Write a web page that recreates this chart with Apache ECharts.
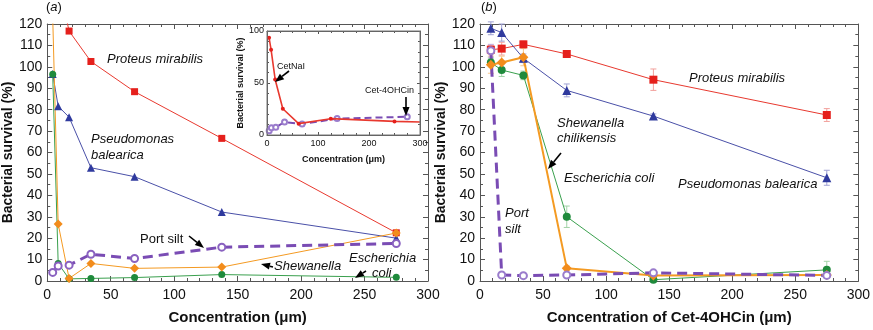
<!DOCTYPE html>
<html>
<head>
<meta charset="utf-8">
<script src="https://cdn.jsdelivr.net/npm/echarts@6/dist/echarts.min.js"></script>
<style>
  html, body { margin: 0; padding: 0; background: #fff; }
  #chart { width: 873px; height: 330px; }
</style>
</head>
<body>
<div id="chart"></div>
<script>
// panel (a): Cet-4OHCin with different strains (port silt, Shewanella, ...)
const aConc = [4.3, 8.6, 17.2, 34.4, 68.8, 137.5, 275];
const aProteus = [null, 140, 116.7, 102.5, 88.4, 66.6, 22.5];
const aPseudo = [96.7, 81.6, 76.5, 52.9, 48.7, 32.2, 20];
const aShew = [123, 26.6, 1.2, 8.2, 5.9, 6.5, 22.4];
const aEcoli = [96.5, 8.2, 1, 1.2, 1.6, 3, 1.7];
const aPort = [4, 7, 7.4, 12.5, 10.5, 15.8, 17.5];

// inset of (a)
const iConc = [4, 8, 16, 31, 62, 125, 250, 300];
const iCetNaI = [93.6, 82, 53.4, 25.2, 10.9, 15.7, 13.1, 12.5];

// panel (b)
const bConc = [8.6, 17.2, 34.4, 68.8, 137.5, 275];
const bProteus = [108, 108.5, 110.5, 106, 94, 77.5];
const bProteusErr = [2, 3, 1.5, 1.5, 5, 3];
const bPseudo = [118, 116, 104, 89, 77, 48.2];
const bPseudoErr = [3, 4, 2, 3, 1, 3.5];
const bShew = [101, 102, 104.5, 6, 2.6, 2.8];
const bShewErr = [4, 3, 4, 1, 1, 1];
const bEcoli = [102, 98.5, 96, 30, 0.6, 5.2];
const bEcoliErr = [2, 3, 2, 5, 1, 4];
const bPort = [107.5, 2.8, 2.5, 2.8, 3.8, 2.6];
const bPortErr = [3, 0.5, 0.5, 0.5, 0.8, 0.5];

const xTicks = [0, 300, 50];
const yTicks = [0, 120, 10];
const FONT = 'Liberation Sans, Arial, Helvetica, sans-serif';

function zip(xs, ys) { return xs.map((x, i) => [x, ys[i]]); }
function zipErr(xs, ys, es) { return xs.map((x, i) => [x, ys[i], es[i]]); }

const RED = '#e8392f', BLUE = '#4a50a8', ORANGE = '#f49a22', GREEN = '#3aa04e', PURPLE = '#7a4cb4';

function axisX(grid, pos, min, max, interval, minor, opts) {
  return Object.assign({
    type: 'value', gridIndex: grid, position: pos, min: min, max: max, interval: interval,
    axisLine: { show: true, onZero: false, lineStyle: { color: '#555', width: 1 } },
    axisTick: { show: true, inside: true, length: 5, lineStyle: { color: '#555' } },
    minorTick: { show: true, splitNumber: minor, length: 3, lineStyle: { color: '#555' } },
    splitLine: { show: false },
    axisLabel: { show: pos === 'bottom' || pos === 'left', color: '#111', fontSize: 14, fontFamily: FONT, margin: 7 }
  }, opts || {});
}

function errorSeries(xi, yi, data, color) {
  return {
    type: 'custom', xAxisIndex: xi, yAxisIndex: yi, z: 1, silent: true,
    encode: { x: 0, y: 1 },
    data: data,
    renderItem: function (params, api) {
      const x = api.value(0), y = api.value(1), e = api.value(2);
      const t = api.coord([x, y + e]);
      const b = api.coord([x, y - e]);
      const st = { stroke: color, lineWidth: 1 };
      return {
        type: 'group', children: [
          { type: 'line', shape: { x1: t[0], y1: t[1], x2: b[0], y2: b[1] }, style: st },
          { type: 'line', shape: { x1: t[0] - 3, y1: t[1], x2: t[0] + 3, y2: t[1] }, style: st },
          { type: 'line', shape: { x1: b[0] - 3, y1: b[1], x2: b[0] + 3, y2: b[1] }, style: st }
        ]
      };
    }
  };
}

function arrow(x1, y1, x2, y2) {
  const a = Math.atan2(y2 - y1, x2 - x1);
  const L = 9, W = 3.5;
  const bx = x2 - L * Math.cos(a), by = y2 - L * Math.sin(a);
  const px = -Math.sin(a) * W, py = Math.cos(a) * W;
  return [
    { type: 'line', shape: { x1: x1, y1: y1, x2: bx, y2: by }, style: { stroke: '#000', lineWidth: 1.6 }, z: 100 },
    { type: 'polygon', shape: { points: [[x2, y2], [bx + px, by + py], [bx - px, by - py]] }, style: { fill: '#000' }, z: 100 }
  ];
}

function label(text, x, y, size, italic) {
  return {
    type: 'text', x: x, y: y, z: 100,
    style: { text: text, fontSize: size, fontStyle: italic ? 'italic' : 'normal', fontFamily: FONT, fill: '#111', verticalAlign: 'middle' }
  };
}

const chart = echarts.init(document.getElementById('chart'));

const option = {
  animation: false,
  backgroundColor: '#fff',
  textStyle: { fontFamily: FONT },
  grid: [
    { left: 46, top: 24, width: 382, height: 259 },
    { left: 267, top: 31, width: 153, height: 104, show: true, backgroundColor: '#fff', borderWidth: 0, z: 3 },
    { left: 480, top: 24, width: 383, height: 259 }
  ],
  xAxis: [
    axisX(0, 'bottom', xTicks[0], xTicks[1], xTicks[2], 5, {
      name: 'Concentration (\u03bcm)', nameLocation: 'middle', nameGap: 29,
      nameTextStyle: { fontSize: 15, fontWeight: 'bold', color: '#111', fontFamily: FONT }
    }),
    axisX(0, 'top', xTicks[0], xTicks[1], xTicks[2], 5),
    axisX(1, 'bottom', 0, 300, 100, 4, {
      z: 4,
      axisLabel: { color: '#111', fontSize: 9, fontFamily: FONT, margin: 4 },
      axisTick: { inside: true, length: 3, lineStyle: { color: '#555' } },
      minorTick: { show: true, splitNumber: 4, length: 2, lineStyle: { color: '#555' } },
      name: 'Concentration (\u03bcm)', nameLocation: 'middle', nameGap: 20,
      nameTextStyle: { fontSize: 9, fontWeight: 'bold', color: '#111', fontFamily: FONT }
    }),
    axisX(1, 'top', 0, 300, 100, 4, {
      z: 4,
      axisTick: { inside: true, length: 3, lineStyle: { color: '#555' } },
      minorTick: { show: true, splitNumber: 4, length: 2, lineStyle: { color: '#555' } }
    }),
    axisX(2, 'bottom', xTicks[0], xTicks[1], xTicks[2], 5, {
      name: 'Concentration of Cet-4OHCin (\u03bcm)', nameLocation: 'middle', nameGap: 29,
      nameTextStyle: { fontSize: 15, fontWeight: 'bold', color: '#111', fontFamily: FONT }
    }),
    axisX(2, 'top', xTicks[0], xTicks[1], xTicks[2], 5)
  ],
  yAxis: [
    axisX(0, 'left', yTicks[0], yTicks[1], yTicks[2], 2, {
      axisLabel: { color: '#111', fontSize: 14, fontFamily: FONT, margin: 5 },
      name: 'Bacterial survival (%)', nameLocation: 'middle', nameGap: 29,
      nameTextStyle: { fontSize: 14, fontWeight: 'bold', color: '#111', fontFamily: FONT }
    }),
    axisX(0, 'right', yTicks[0], yTicks[1], yTicks[2], 2),
    axisX(1, 'left', 0, 100, 50, 5, {
      z: 4,
      axisLabel: { color: '#111', fontSize: 9, fontFamily: FONT, margin: 3 },
      axisTick: { inside: true, length: 3, lineStyle: { color: '#555' } },
      minorTick: { show: true, splitNumber: 5, length: 2, lineStyle: { color: '#555' } },
      name: 'Bacterial survival (%)', nameLocation: 'middle', nameGap: 21,
      nameTextStyle: { fontSize: 9, fontWeight: 'bold', color: '#111', fontFamily: FONT }
    }),
    axisX(1, 'right', 0, 100, 50, 5, {
      z: 4,
      axisTick: { inside: true, length: 3, lineStyle: { color: '#555' } },
      minorTick: { show: true, splitNumber: 5, length: 2, lineStyle: { color: '#555' } }
    }),
    axisX(2, 'left', yTicks[0], yTicks[1], yTicks[2], 2, {
      axisLabel: { color: '#111', fontSize: 14, fontFamily: FONT, margin: 5 },
      name: 'Bacterial survival (%)', nameLocation: 'middle', nameGap: 29,
      nameTextStyle: { fontSize: 14, fontWeight: 'bold', color: '#111', fontFamily: FONT }
    }),
    axisX(2, 'right', yTicks[0], yTicks[1], yTicks[2], 2)
  ],
  series: [
    // panel (a)
    { type: 'line', xAxisIndex: 0, yAxisIndex: 0, data: zip(aConc, aProteus), symbol: 'rect', symbolSize: 7,
      lineStyle: { color: RED, width: 1 }, itemStyle: { color: '#e5201c' }, clip: true },
    { type: 'line', xAxisIndex: 0, yAxisIndex: 0, data: zip(aConc, aPseudo), symbol: 'triangle', symbolSize: 8,
      lineStyle: { color: BLUE, width: 1 }, itemStyle: { color: '#2f3a9e' }, clip: true },
    { type: 'line', xAxisIndex: 0, yAxisIndex: 0, data: zip(aConc, aEcoli), symbol: 'circle', symbolSize: 7,
      lineStyle: { color: GREEN, width: 1 }, itemStyle: { color: '#1f8a3c' }, clip: true },
    { type: 'line', xAxisIndex: 0, yAxisIndex: 0, data: zip(aConc, aShew), symbol: 'diamond', symbolSize: 9,
      lineStyle: { color: ORANGE, width: 1 }, itemStyle: { color: '#f28c1c' }, clip: true },
    { type: 'line', xAxisIndex: 0, yAxisIndex: 0, data: zip(aConc, aPort), symbol: 'emptyCircle', symbolSize: 7,
      lineStyle: { color: PURPLE, width: 3, type: [10, 6] }, itemStyle: { color: '#8a62c0', borderWidth: 1 }, clip: true, z: 3 },
    // inset
    { type: 'line', xAxisIndex: 2, yAxisIndex: 2, data: zip(aConc, aPort), symbol: 'emptyCircle', symbolSize: 5, z: 5,
      lineStyle: { color: PURPLE, width: 2, type: [7, 4] }, itemStyle: { color: '#9a7ccc', borderWidth: 1 } },
    { type: 'line', xAxisIndex: 2, yAxisIndex: 2, data: zip(iConc, iCetNaI), z: 6,
      symbol: 'circle', symbolSize: function (v) { return v[0] >= 300 ? 0 : 4; },
      lineStyle: { color: RED, width: 1.6 }, itemStyle: { color: '#e5201c' } },
    // panel (b) error bars
    errorSeries(4, 4, zipErr(bConc, bProteus, bProteusErr), '#f2a09c'),
    errorSeries(4, 4, zipErr(bConc, bPseudo, bPseudoErr), '#a0a2d4'),
    errorSeries(4, 4, zipErr(bConc, bShew, bShewErr), '#f7c78e'),
    errorSeries(4, 4, zipErr(bConc, bEcoli, bEcoliErr), '#a2d3a8'),
    errorSeries(4, 4, zipErr(bConc, bPort, bPortErr), '#bea6dc'),
    // panel (b)
    { type: 'line', xAxisIndex: 4, yAxisIndex: 4, data: zip(bConc, bProteus), symbol: 'rect', symbolSize: 8,
      lineStyle: { color: RED, width: 1 }, itemStyle: { color: '#e5201c' } },
    { type: 'line', xAxisIndex: 4, yAxisIndex: 4, data: zip(bConc, bPseudo), symbol: 'triangle', symbolSize: 9,
      lineStyle: { color: BLUE, width: 1 }, itemStyle: { color: '#2f3a9e' } },
    { type: 'line', xAxisIndex: 4, yAxisIndex: 4, data: zip(bConc, bEcoli), symbol: 'circle', symbolSize: 8,
      lineStyle: { color: GREEN, width: 1 }, itemStyle: { color: '#1f8a3c' } },
    { type: 'line', xAxisIndex: 4, yAxisIndex: 4, data: zip(bConc, bShew), symbol: 'diamond', symbolSize: 10,
      lineStyle: { color: ORANGE, width: 2 }, itemStyle: { color: '#f28c1c' } },
    { type: 'line', xAxisIndex: 4, yAxisIndex: 4, data: zip(bConc, bPort), symbol: 'emptyCircle', symbolSize: 7,
      lineStyle: { color: PURPLE, width: 3, type: [10, 6] }, itemStyle: { color: '#9a7ccc', borderWidth: 1 }, z: 3 }
  ],
  graphic: [
    { type: 'text', x: 46, y: 7, z: 100,
      style: { text: '({i|a})', fontSize: 13, fontFamily: FONT, fill: '#111', verticalAlign: 'middle',
        rich: { i: { fontStyle: 'italic', fontSize: 13, fontFamily: FONT } } } },
    { type: 'text', x: 481, y: 7, z: 100,
      style: { text: '({i|b})', fontSize: 13, fontFamily: FONT, fill: '#111', verticalAlign: 'middle',
        rich: { i: { fontStyle: 'italic', fontSize: 13, fontFamily: FONT } } } },
    // inset frame
    { type: 'rect', shape: { x: 267, y: 31, width: 153, height: 104 }, style: { fill: 'none', stroke: '#777', lineWidth: 1 }, z: 50 },
    // panel (a) labels
    label('Proteus mirabilis', 107, 59, 13, true),
    label('Pseudomonas', 91, 139, 13, true),
    label('balearica', 91, 155, 13, true),
    label('Port silt', 140, 239, 13, false),
    ...arrow(189, 236, 204, 248),
    label('Shewanella', 274, 266, 13, true),
    ...arrow(273, 267, 261, 264),
    label('Escherichia', 349, 258, 13, true),
    label('coli', 372, 273, 13, true),
    ...arrow(366, 271, 355, 278),
    // inset labels
    label('CetNaI', 277, 67, 9, false),
    ...arrow(289, 71, 275, 82),
    label('Cet-4OHCin', 365, 91, 9, false),
    ...arrow(406, 97, 406, 116),
    // panel (b) labels
    label('Proteus mirabilis', 689, 78, 13, true),
    label('Shewanella', 557, 123, 13, true),
    label('chilikensis', 557, 138, 13, true),
    ...arrow(561, 153, 548, 169),
    label('Escherichia coli', 564, 178, 13, true),
    label('Pseudomonas balearica', 678, 184, 13, true),
    label('Port', 505, 213, 13, true),
    label('silt', 505, 229, 13, true)
  ]
};

chart.setOption(option);
</script>
</body>
</html>
